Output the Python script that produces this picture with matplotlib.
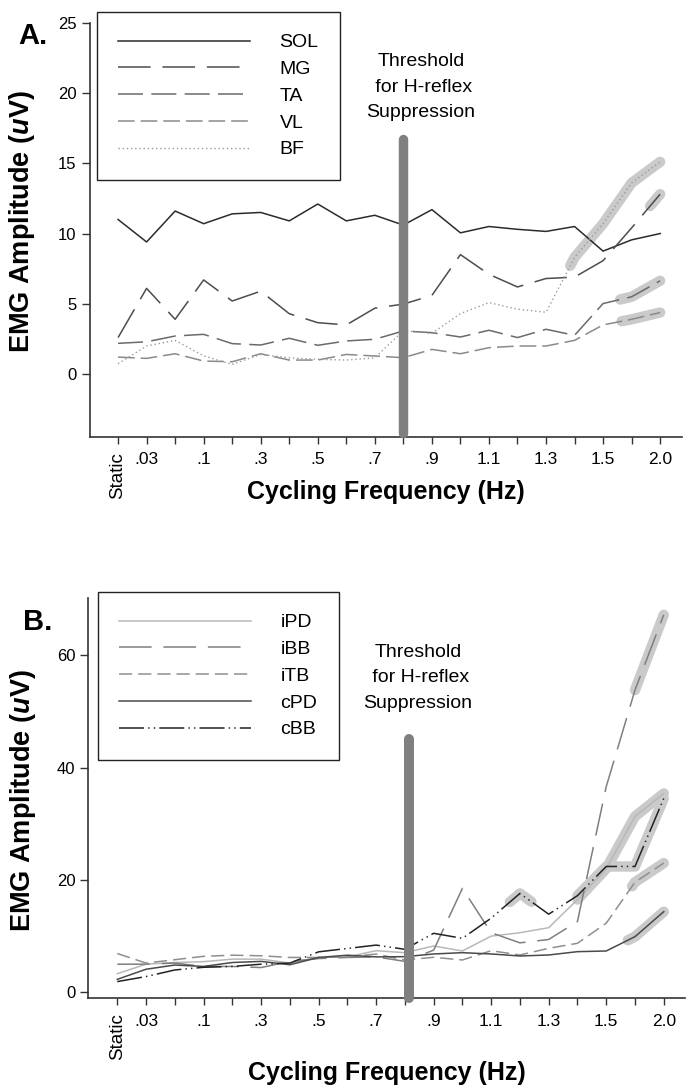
import numpy as np
import matplotlib
matplotlib.use('Agg')
import matplotlib.pyplot as plt

plt.rcParams['font.family'] = ['Liberation Sans', 'DejaVu Sans']
plt.rcParams['lines.scale_dashes'] = False
plt.rcParams['mathtext.fontset'] = 'custom'
plt.rcParams['mathtext.it'] = 'Liberation Sans:italic:bold'
plt.rcParams['mathtext.rm'] = 'Liberation Sans:bold'

# cycling frequencies (one position per condition)
freq_labels = ['Static', '.03', '', '.1', '', '.3', '', '.5', '', '.7', '',
               '.9', '', '1.1', '', '1.3', '', '1.5', '', '2.0']
idx = np.arange(len(freq_labels))

# panel A - leg muscles (uV)
sol = [11.0, 9.4, 11.6, 10.7, 11.4, 11.5, 10.9, 12.1, 10.9, 11.3,
       10.6, 11.7, 10.05, 10.5, 10.3, 10.15, 10.5, 8.75, 9.55, 10.0]
mg = [2.6, 6.1, 3.9, 6.7, 5.2, 5.9, 4.3, 3.66, 3.5, 4.69,
      4.98, 5.6, 8.5, 7.1, 6.2, 6.8, 6.9, 8.07, 10.4, 12.8]
ta = [2.19, 2.3, 2.71, 2.83, 2.17, 2.07, 2.55, 2.05, 2.36, 2.48,
      3.07, 2.95, 2.64, 3.12, 2.6, 3.19, 2.76, 5.02, 5.5, 6.64]
vl = [1.21, 1.12, 1.45, 0.93, 0.88, 1.45, 1.0, 1.0, 1.4, 1.29,
      1.17, 1.76, 1.45, 1.88, 2.0, 2.0, 2.4, 3.5, 3.9, 4.38]
bf = [0.74, 2.0, 2.4, 1.3, 0.69, 1.4, 1.16, 1.05, 1.0, 1.16,
      3.1, 2.9, 4.3, 5.09, 4.62, 4.4, 8.3, 10.7, 13.6, 15.1]

# panel B - arm muscles (uV)
ipd = [3.3, 5.0, 5.3, 5.45, 5.9, 5.9, 5.2, 6.2, 6.3, 7.4,
       7.05, 8.24, 7.35, 10.0, 10.6, 11.5, 16.5, 22.0, 31.3, 35.4]
ibb = [5.0, 5.0, 5.2, 4.6, 4.6, 4.4, 5.5, 6.0, 6.2, 6.3,
       5.5, 7.5, 18.5, 10.6, 8.8, 9.4, 12.6, 36.6, 53.8, 67.2]
itb = [6.9, 5.2, 5.8, 6.4, 6.6, 6.5, 6.2, 6.2, 6.3, 6.8,
       5.75, 6.23, 5.75, 7.4, 6.64, 7.83, 8.72, 12.3, 19.6, 23.0]
cpd = [2.3, 4.1, 4.85, 4.6, 5.3, 5.5, 4.9, 6.2, 6.6, 6.3,
       6.34, 6.82, 7.05, 6.82, 6.46, 6.64, 7.23, 7.35, 9.9, 14.35]
cbb = [1.9, 2.8, 3.97, 4.45, 4.6, 5.0, 5.2, 7.2, 7.8, 8.4,
       7.65, 10.5, 9.6, 13.2, 17.6, 13.9, 17.2, 22.4, 22.4, 34.5]

# significant stretches (start, end position)
sig_a = [(bf, 15.85, 19), (mg, 18.65, 19), (ta, 17.6, 19), (vl, 17.65, 19)]
sig_b = [(ibb, 18.0, 19), (itb, 17.9, 19), (cpd, 17.75, 19),
         (ipd, 16.0, 19), (cbb, 16.0, 19), (cbb, 13.65, 14.4)]

fig = plt.figure(figsize=(6.86, 10.89), dpi=100)
axA = fig.add_axes([0.1305, 0.599, 0.863, 0.3802])
axB = fig.add_axes([0.129, 0.0833, 0.870, 0.3676])


def highlight(ax, y, x0, x1):
    inner = idx[(idx > x0) & (idx < x1)]
    xs = np.concatenate([[x0], inner, [x1]])
    ax.plot(xs, np.interp(xs, idx, y), color='#cacaca', lw=7.5,
            solid_capstyle='round', solid_joinstyle='round', zorder=1)


def style_axes(ax, ylim, yticks):
    ax.set_xlim(-1, 19.75)
    ax.set_ylim(*ylim)
    ax.set_yticks(yticks)
    ax.set_xticks(idx)
    ax.set_xticklabels(freq_labels, fontsize=12.5)
    ax.get_xticklabels()[0].set_rotation(90)
    ax.get_xticklabels()[0].set_fontsize(13.5)
    ax.tick_params(axis='y', labelsize=12, length=6, width=1, color='#333333')
    ax.tick_params(axis='x', length=5, width=1, color='#333333', pad=6)
    for s in ['top', 'right']:
        ax.spines[s].set_visible(False)
    for s in ['left', 'bottom']:
        ax.spines[s].set_color('#333333')
        ax.spines[s].set_linewidth(1.2)
    ax.set_xlabel('Cycling Frequency (Hz)', fontsize=18, fontweight='bold')
    ax.set_ylabel('EMG Amplitude ($\\mathit{u}$V)', fontsize=19.5, fontweight='bold')


def legend(ax, anchor):
    leg = ax.legend(loc='upper left', bbox_to_anchor=anchor,
                    bbox_transform=fig.transFigure, fontsize=14, handlelength=6.8,
                    handletextpad=1.5, borderpad=1.1, labelspacing=0.47,
                    borderaxespad=0, fancybox=False, framealpha=1)
    leg.get_frame().set_edgecolor('#222222')
    leg.get_frame().set_linewidth(1.0)


# ---- panel A
for y, x0, x1 in sig_a:
    highlight(axA, y, x0, x1)
axA.plot(idx, sol, color='#2b2b2b', lw=1.1, label='SOL', zorder=3)
axA.plot(idx, mg, color='#4d4d4d', lw=1.1, dashes=(23.5, 8.5), label='MG', zorder=3)
axA.plot(idx, ta, color='#6a6a6a', lw=1.1, dashes=(18, 6), label='TA', zorder=3)
axA.plot(idx, vl, color='#8a8a8a', lw=1.1, dashes=(12, 4.3), label='VL', zorder=3)
axA.plot(idx, bf, color='#9a9a9a', lw=1.0, dashes=(1, 2), label='BF', zorder=3)
axA.plot([10, 10], [-4.2, 16.75], color='#808080', lw=6.8,
         solid_capstyle='round', clip_on=False, zorder=4)
axA.text(10.62, 20.4, 'Threshold\n for H-reflex\nSuppression', fontsize=14,
         ha='center', va='center', multialignment='center', linespacing=1.66)
style_axes(axA, (-4.45, 25), [0, 5, 10, 15, 20, 25])
axA.xaxis.set_label_coords(0.5, -0.105)
axA.yaxis.set_label_coords(-0.088, 0.52)
legend(axA, (0.141, 0.9887))
fig.text(0.026, 0.967, 'A.', fontsize=21, fontweight='bold', ha='left', va='center')

# ---- panel B
for y, x0, x1 in sig_b:
    highlight(axB, y, x0, x1)
axB.plot(idx, ipd, color='#b8b8b8', lw=1.1, label='iPD', zorder=3)
axB.plot(idx, ibb, color='#7f7f7f', lw=1.1, dashes=(23.5, 8.5), label='iBB', zorder=3)
axB.plot(idx, itb, color='#8f8f8f', lw=1.1, dashes=(9.5, 4.3), label='iTB', zorder=3)
axB.plot(idx, cpd, color='#4a4a4a', lw=1.1, label='cPD', zorder=3)
axB.plot(idx, cbb, color='#222222', lw=1.1, dashes=(18, 3, 1, 3, 1, 3), label='cBB', zorder=3)
axB.plot([10.14, 10.14], [-1.0, 45.1], color='#808080', lw=7.2,
         solid_capstyle='round', clip_on=False, zorder=4)
axB.text(10.45, 56.0, 'Threshold\n for H-reflex\nSuppression', fontsize=14,
         ha='center', va='center', multialignment='center', linespacing=1.66)
style_axes(axB, (-1.07, 70.2), [0, 20, 40, 60])
axB.xaxis.set_label_coords(0.5, -0.157)
axB.yaxis.set_label_coords(-0.085, 0.495)
legend(axB, (0.1424, 0.4561))
fig.text(0.033, 0.429, 'B.', fontsize=21, fontweight='bold', ha='left', va='center')

fig.savefig('out.png', dpi=100)
